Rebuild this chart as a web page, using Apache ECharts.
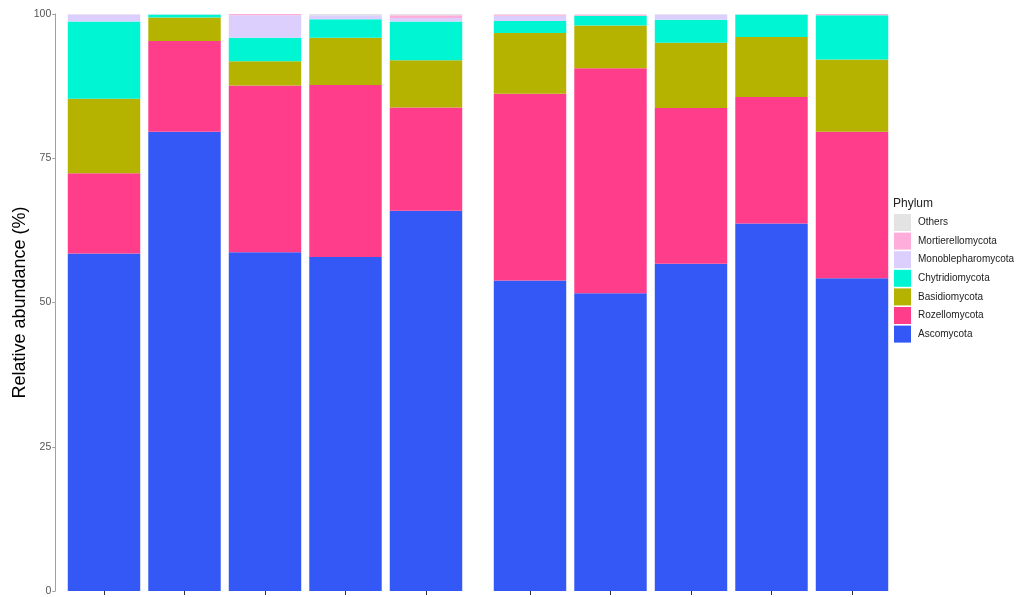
<!DOCTYPE html>
<html>
<head>
<meta charset="utf-8">
<script src="https://cdn.jsdelivr.net/npm/echarts@6/dist/echarts.min.js"></script>
<style>
  html, body { margin: 0; padding: 0; background: #fff; }
  #chart { width: 1021px; height: 597px; }
</style>
</head>
<body>
<div id="chart"></div>
<script>
// Samples, split into two panels of five bars each
const samplesLeft = ['S1', 'S2', 'S3', 'S4', 'S5'];
const samplesRight = ['S6', 'S7', 'S8', 'S9', 'S10'];

// Relative abundance (%) per phylum, one value per sample (S1..S10)
const ascomycota         = [58.5, 79.6, 58.7, 57.9, 65.9, 53.8, 51.6, 56.7, 63.7, 54.2];
const rozellomycota      = [13.9, 15.7, 28.9, 29.8, 17.9, 32.4, 39.0, 27.0, 21.9, 25.4];
const basidiomycota      = [12.9,  4.1,  4.2,  8.2,  8.2, 10.5,  7.4, 11.3, 10.4, 12.5];
const chytridiomycota    = [13.4,  0.5,  4.1,  3.2,  6.7,  2.1,  1.7,  4.0,  3.9,  7.7];
const monoblepharomycota = [ 1.2,  0.0,  3.9,  0.7,  0.6,  0.9,  0.0,  0.9,  0.0,  0.0];
const mortierellomycota  = [ 0.0,  0.0,  0.2,  0.0,  0.5,  0.2,  0.2,  0.0,  0.0,  0.2];
const others             = [ 0.1,  0.1,  0.0,  0.2,  0.2,  0.1,  0.1,  0.1,  0.1,  0.0];

const yTicks = [0, 25, 50, 75, 100];

// Stacking order, bottom to top
const phyla = [
  { name: 'Ascomycota',         values: ascomycota,         color: '#3358F5' },
  { name: 'Rozellomycota',      values: rozellomycota,      color: '#FF3D8A' },
  { name: 'Basidiomycota',      values: basidiomycota,      color: '#B6B300' },
  { name: 'Chytridiomycota',    values: chytridiomycota,    color: '#00F5D3' },
  { name: 'Monoblepharomycota', values: monoblepharomycota, color: '#DCCFFD' },
  { name: 'Mortierellomycota',  values: mortierellomycota,  color: '#FFAEDB' },
  { name: 'Others',             values: others,             color: '#E3E3E3' }
];

const font = 'Liberation Sans, Arial, sans-serif';

const series = [];
phyla.forEach(p => {
  [0, 1].forEach(panel => {
    series.push({
      name: p.name,
      type: 'bar',
      stack: 'panel' + panel,
      xAxisIndex: panel,
      yAxisIndex: panel,
      barWidth: '90%',
      itemStyle: { color: p.color },
      emphasis: { disabled: true },
      data: panel === 0 ? p.values.slice(0, 5) : p.values.slice(5, 10)
    });
  });
});

const xAxisCommon = {
  type: 'category',
  axisLine: { show: false },
  axisTick: { show: true, alignWithLabel: true, length: 4, lineStyle: { color: '#333', width: 1 } },
  axisLabel: { show: false },
  splitLine: { show: false }
};

const chart = echarts.init(document.getElementById('chart'), null, { renderer: 'canvas' });
chart.setOption({
  animation: false,
  backgroundColor: '#fff',
  title: {
    text: 'Phylum',
    left: 888,
    top: 193,
    textStyle: { fontFamily: font, fontSize: 12, fontWeight: 'normal', color: '#222' }
  },
  legend: {
    orient: 'vertical',
    left: 889,
    top: 209,
    itemWidth: 17,
    itemHeight: 17,
    itemGap: 1.6,
    selectedMode: false,
    icon: 'rect',
    data: ['Others', 'Mortierellomycota', 'Monoblepharomycota', 'Chytridiomycota', 'Basidiomycota', 'Rozellomycota', 'Ascomycota'],
    textStyle: { fontFamily: font, fontSize: 10, color: '#222', padding: [0, 0, 0, 2] }
  },
  grid: [
    { left: 63.75, width: 402.5, top: 14, bottom: 6, containLabel: false },
    { left: 489.75, width: 402.5, top: 14, bottom: 6, containLabel: false }
  ],
  xAxis: [
    Object.assign({ gridIndex: 0, data: samplesLeft }, xAxisCommon),
    Object.assign({ gridIndex: 1, data: samplesRight }, xAxisCommon)
  ],
  yAxis: [
    {
      type: 'value',
      gridIndex: 0,
      min: yTicks[0],
      max: yTicks[yTicks.length - 1],
      interval: 25,
      offset: 8.5,
      name: 'Relative abundance (%)',
      nameLocation: 'middle',
      nameGap: 26,
      nameRotate: 90,
      nameTextStyle: { fontFamily: font, fontSize: 18, color: '#000' },
      axisLine: { show: true, lineStyle: { color: '#a0a0a0', width: 1 } },
      axisTick: { show: true, length: 3, lineStyle: { color: '#a0a0a0' } },
      axisLabel: { fontFamily: font, fontSize: 10.5, color: '#555', margin: 4 },
      splitLine: { show: false }
    },
    {
      type: 'value',
      gridIndex: 1,
      min: yTicks[0],
      max: yTicks[yTicks.length - 1],
      interval: 25,
      show: false,
      splitLine: { show: false }
    }
  ],
  series: series
});
</script>
</body>
</html>
